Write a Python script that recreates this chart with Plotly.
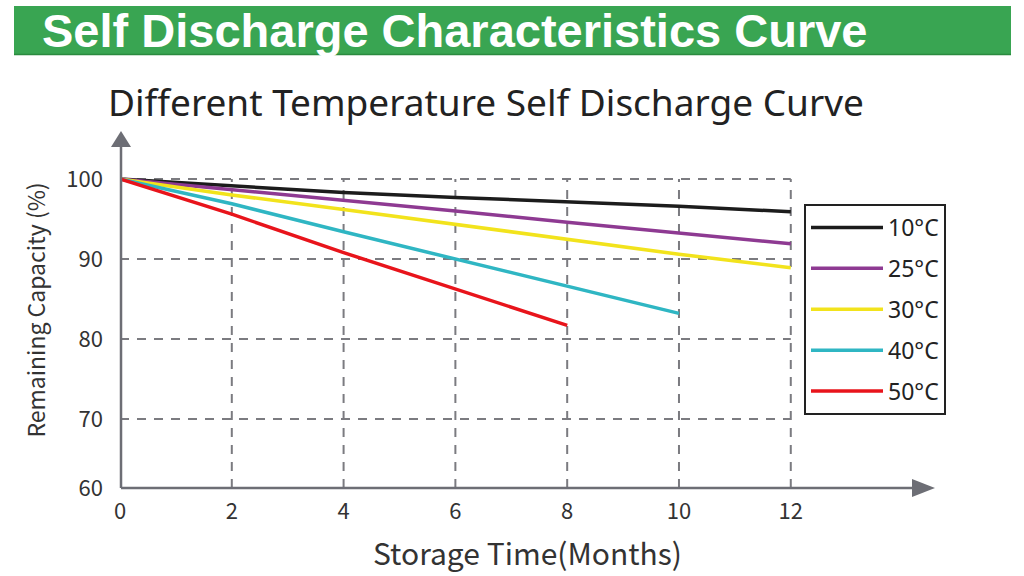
import plotly.graph_objects as go

# ---- data ----
months = [0, 2, 4, 6, 8, 10, 12]
series_names = ["10°C", "25°C", "30°C", "40°C", "50°C"]
cap_10 = [100, 99.1, 98.3, 97.7, 97.2, 96.6, 95.9]
cap_25 = [100, 98.7, 97.3, 96.0, 94.6, 93.3, 91.9]
cap_30 = [100, 98.0, 96.2, 94.3, 92.5, 90.6, 88.9]
cap_40 = [100, 96.9, 93.4, 90.0, 86.5, 83.2]
cap_50 = [100, 95.6, 90.8, 86.3, 81.7]
series_values = [cap_10, cap_25, cap_30, cap_40, cap_50]
colors = ["#1c1c1c", "#8e3a92", "#f2e31c", "#2fb6c3", "#e8141b"]

x_ticks = [0, 2, 4, 6, 8, 10, 12]
y_grid = [70, 80, 90, 100]
y_tick_vals = [61.375, 70, 80, 90, 100]
y_tick_text = ["60", "70", "80", "90", "100"]

# ---- layout geometry (pixels) ----
W_IMG, H_IMG = 1024, 576
L, R, T, B = 120, 89, 132, 88
PW, PH = W_IMG - L - R, H_IMG - T - B
X_RANGE = [0, 14.58]
Y_RANGE = [61.375, 105.875]


def px(xpix):
    return (xpix - L) / PW


def py(ypix):
    return (H_IMG - B - ypix) / PH


fig = go.Figure()

for name, vals, col in zip(series_names, series_values, colors):
    fig.add_trace(go.Scatter(
        x=months[:len(vals)], y=vals, mode="lines", name=name,
        legendgroup=name,
        line=dict(color=col, width=3.5),
    ))

grid_col = "#7b7b80"
shapes = []
for yv in y_grid:
    shapes.append(dict(type="line", xref="x", yref="y", x0=0, x1=12, y0=yv, y1=yv,
                       line=dict(color=grid_col, width=2, dash="9px,8px"), layer="below"))
for xv in x_ticks[1:]:
    shapes.append(dict(type="line", xref="x", yref="y", x0=xv, x1=xv, y0=Y_RANGE[0], y1=100,
                       line=dict(color=grid_col, width=2, dash="9px,8px"), layer="below"))

axis_col = "#6d6e75"
# axis lines
shapes.append(dict(type="line", xref="paper", yref="paper", x0=px(121), x1=px(121),
                   y0=py(488), y1=py(140), line=dict(color=axis_col, width=2.5)))
shapes.append(dict(type="line", xref="paper", yref="paper", x0=px(121), x1=px(920),
                   y0=py(488), y1=py(488), line=dict(color=axis_col, width=2.5)))
# arrow heads
shapes.append(dict(type="path", xref="paper", yref="paper",
                   path=f"M {px(111)} {py(147)} L {px(121)} {py(131)} L {px(131)} {py(147)} Z",
                   fillcolor=axis_col, line=dict(color=axis_col, width=0)))
shapes.append(dict(type="path", xref="paper", yref="paper",
                   path=f"M {px(912)} {py(479)} L {px(935)} {py(488)} L {px(912)} {py(497)} Z",
                   fillcolor=axis_col, line=dict(color=axis_col, width=0)))
# green banner
shapes.append(dict(type="rect", xref="paper", yref="paper", x0=px(14), x1=px(1011),
                   y0=py(55), y1=py(6), fillcolor="#39a552", line=dict(width=0)))
shapes.append(dict(type="line", xref="paper", yref="paper", x0=px(14), x1=px(1011),
                   y0=py(54.5), y1=py(54.5), line=dict(color="#2b8a3f", width=1.5)))

annotations = [
    dict(text="Self Discharge Characteristics Curve", xref="paper", yref="paper",
         x=px(40), y=py(31), xanchor="left", yanchor="middle", showarrow=False,
         font=dict(family="Liberation Sans", size=47, color="white", weight="bold")),
    dict(text="Different Temperature Self Discharge Curve", xref="paper", yref="paper",
         x=px(486), y=py(101), xanchor="center", yanchor="middle", showarrow=False,
         font=dict(family="Noto Sans", size=37, color="#222222")),
]

tick_font = dict(family="Noto Sans CJK SC", size=22, color="#333333")

fig.update_layout(
    width=W_IMG, height=H_IMG,
    margin=dict(l=L, r=R, t=T, b=B),
    paper_bgcolor="white", plot_bgcolor="white",
    shapes=shapes, annotations=annotations,
    xaxis=dict(range=X_RANGE, tickvals=x_ticks, ticktext=[str(v) for v in x_ticks],
               showgrid=False, zeroline=False, showline=False, ticks="",
               tickfont=tick_font, ticklabelstandoff=8,
               title=dict(text="Storage Time(Months)", standoff=19,
                          font=dict(family="Noto Sans CJK SC", size=30, color="#333333"))),
    yaxis=dict(range=Y_RANGE, tickvals=y_tick_vals, ticktext=y_tick_text,
               showgrid=False, zeroline=False, showline=False, ticks="",
               tickfont=tick_font, ticklabelstandoff=16,
               title=dict(text="Remaining Capacity (%)", standoff=14,
                          font=dict(family="Noto Sans CJK SC", size=23, color="#333333"))),
    legend=dict(x=px(804), y=py(204), xanchor="left", yanchor="top",
                bordercolor="#222222", borderwidth=2, bgcolor="white",
                font=dict(family="Noto Sans", size=23, color="#222222"),
                tracegroupgap=8, itemwidth=72),
    showlegend=True,
)

fig.write_html("out.html")
